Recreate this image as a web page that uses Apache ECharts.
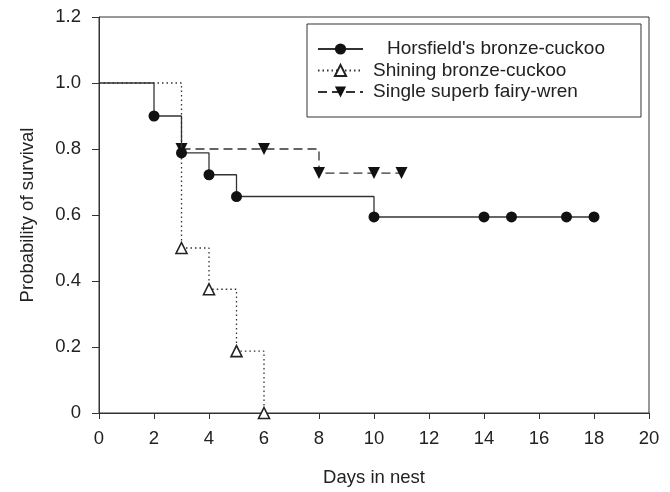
<!DOCTYPE html>
<html>
<head>
<meta charset="utf-8">
<script src="https://cdn.jsdelivr.net/npm/echarts@6/dist/echarts.min.js"></script>
<style>
html,body{margin:0;padding:0;background:#fff;}
#chart{width:670px;height:492px;}
</style>
</head>
<body>
<div id="chart"></div>
<script>
const seriesNames = ["Horsfield's bronze-cuckoo", "Shining bronze-cuckoo", "Single superb fairy-wren"];
const horsfieldDays = [0, 2, 3, 4, 5, 10, 14, 15, 17, 18];
const horsfieldSurv = [1.0, 0.9, 0.788, 0.722, 0.656, 0.594, 0.594, 0.594, 0.594, 0.594];
const shiningDays = [0, 3, 4, 5, 6];
const shiningSurv = [1.0, 0.5, 0.375, 0.1875, 0];
const wrenDays = [3, 6, 8, 10, 11];
const wrenSurv = [0.8, 0.8, 0.727, 0.727, 0.727];
const xTicks = [0, 2, 4, 6, 8, 10, 12, 14, 16, 18, 20];
const yTicks = [0, 0.2, 0.4, 0.6, 0.8, 1.0, 1.2];

const FONT = 'Liberation Sans, Arial, Helvetica, sans-serif';
const INK = '#222';
const FS = 18.5;

function pts(days, vals, hideFirst) {
  return days.map((d, i) => {
    const item = { value: [d, vals[i]] };
    if (hideFirst && i === 0) item.symbol = 'none';
    return item;
  });
}

const chart = echarts.init(document.getElementById('chart'), null, { renderer: 'canvas' });
chart.setOption({
  animation: false,
  backgroundColor: '#fff',
  grid: { left: 99, right: 21, top: 17, bottom: 77, show: true, borderColor: '#333', borderWidth: 1 },
  legend: {
    orient: 'vertical',
    left: 307,
    top: 24,
    padding: [15, 36, 15, 10],
    itemGap: 1.5,
    itemWidth: 45,
    itemHeight: 14,
    borderColor: '#333',
    borderWidth: 1,
    textStyle: {
      fontFamily: FONT, fontSize: 19, color: INK, lineHeight: 20,
      padding: [0, 0, 0, 5],
      rich: { pad: { width: 14, fontFamily: FONT, fontSize: 19, lineHeight: 20 } }
    },
    formatter: n => n === seriesNames[0] ? '{pad|}' + n : n,
    data: seriesNames
  },
  xAxis: {
    type: 'value',
    min: 0, max: 20, interval: 2,
    name: 'Days in nest',
    nameLocation: 'middle',
    nameGap: 55,
    nameTextStyle: { fontFamily: FONT, fontSize: FS, color: INK },
    axisLine: { show: true, lineStyle: { color: '#333', width: 1 } },
    axisTick: { show: true, length: 6, lineStyle: { color: '#333' } },
    axisLabel: { margin: 16, fontFamily: FONT, fontSize: FS, color: INK,
      formatter: v => String(v) },
    splitLine: { show: false }
  },
  yAxis: {
    type: 'value',
    min: 0, max: 1.2, interval: 0.2,
    name: 'Probability of survival',
    nameLocation: 'middle',
    nameGap: 62,
    nameTextStyle: { fontFamily: FONT, fontSize: FS, color: INK },
    axisLine: { show: true, lineStyle: { color: '#333', width: 1 } },
    axisTick: { show: true, length: 7, lineStyle: { color: '#333' } },
    axisLabel: {
      margin: 18, fontFamily: FONT, fontSize: FS, color: INK,
      formatter: v => Math.abs(v) < 1e-9 ? '0' : v.toFixed(1)
    },
    splitLine: { show: false }
  },
  series: [
    {
      name: seriesNames[1],
      type: 'line',
      step: 'end',
      data: pts(shiningDays, shiningSurv, true),
      symbol: 'triangle',
      symbolSize: 11,
      showAllSymbol: true,
      lineStyle: { color: '#333', width: 1.3, type: [1.5, 3] },
      itemStyle: { color: '#fff', borderColor: '#222', borderWidth: 1.6 },
      z: 2
    },
    {
      name: seriesNames[2],
      type: 'line',
      step: 'end',
      data: pts(wrenDays, wrenSurv, false),
      symbol: 'triangle',
      symbolRotate: 180,
      symbolSize: 12,
      showAllSymbol: true,
      lineStyle: { color: '#333', width: 1.3, type: [9, 5] },
      itemStyle: { color: '#111', borderColor: '#111', borderWidth: 0 },
      z: 3
    },
    {
      name: seriesNames[0],
      type: 'line',
      step: 'end',
      data: pts(horsfieldDays, horsfieldSurv, true),
      symbol: 'circle',
      symbolSize: 11,
      showAllSymbol: true,
      lineStyle: { color: '#333', width: 1.3, type: 'solid' },
      itemStyle: { color: '#111', borderColor: '#111', borderWidth: 0 },
      z: 4
    }
  ]
});
</script>
</body>
</html>
